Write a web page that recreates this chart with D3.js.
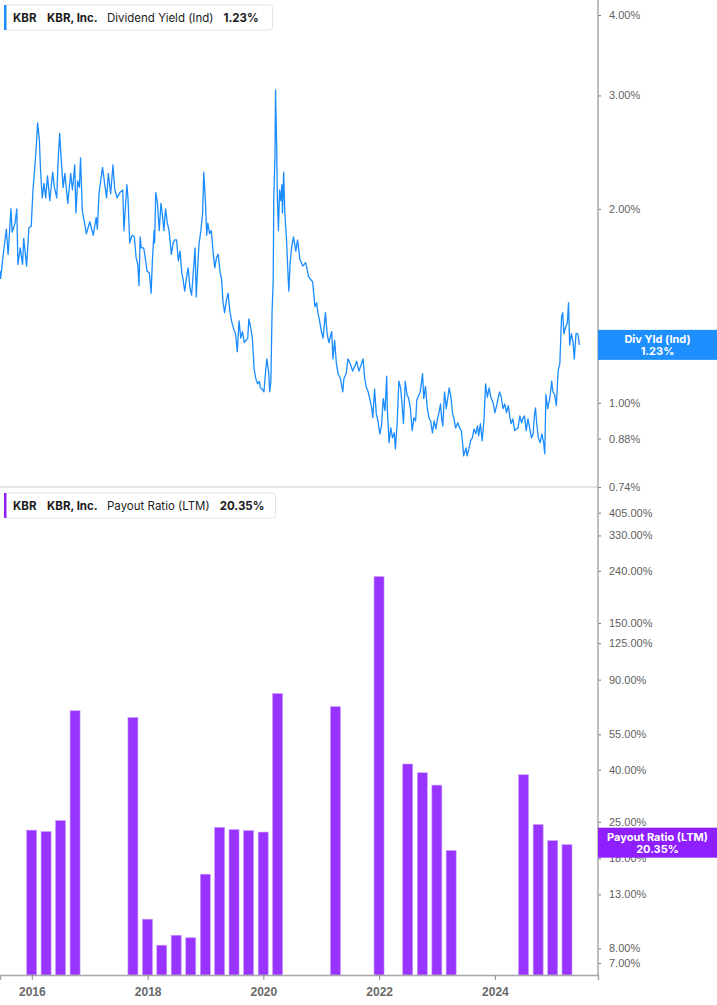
<!DOCTYPE html>
<html>
<head>
<meta charset="utf-8">
<script src="https://cdn.jsdelivr.net/npm/d3@7"></script>
<style>
  html, body { margin: 0; padding: 0; background: #fff; }
  body { width: 717px; height: 1005px; overflow: hidden; font-family: Inter, "Noto Sans", sans-serif; }
  #chart svg { display: block; }
</style>
</head>
<body>
<div id="chart"></div>
<script>
// Dividend yield (Ind), % — dates as decimal years, grouped by year
const yieldDates = [
  2015.45,2015.46,2015.49,2015.53,2015.56,2015.59,2015.64,2015.66,2015.71,2015.74,2015.76,2015.80,2015.84,2015.86,2015.91,2015.95,2015.99,
  2016.02,2016.07,2016.10,2016.13,2016.15,2016.18,2016.21,2016.24,2016.27,2016.31,2016.36,2016.39,2016.43,2016.45,2016.48,2016.50,2016.54,2016.57,2016.62,2016.67,2016.70,2016.74,2016.76,2016.79,2016.82,2016.84,2016.87,2016.90,2016.94,
  2017.00,2017.06,2017.11,2017.13,2017.16,2017.22,2017.25,2017.29,2017.32,2017.36,2017.40,2017.43,2017.47,2017.52,2017.57,2017.59,2017.64,2017.66,2017.69,2017.73,2017.77,2017.80,2017.83,2017.85,2017.87,2017.89,2017.93,2017.95,2017.99,
  2018.03,2018.06,2018.08,2018.11,2018.12,2018.14,2018.17,2018.20,2018.23,2018.26,2018.28,2018.31,2018.34,2018.37,2018.41,2018.44,2018.47,2018.50,2018.53,2018.56,2018.59,2018.61,2018.64,2018.67,2018.70,2018.73,2018.76,2018.79,2018.82,2018.84,2018.87,2018.89,2018.92,2018.95,2018.97,
  2019.00,2019.02,2019.04,2019.07,2019.10,2019.13,2019.16,2019.19,2019.22,2019.25,2019.28,2019.30,2019.33,2019.36,2019.39,2019.42,2019.45,2019.49,2019.52,2019.55,2019.58,2019.61,2019.64,2019.67,2019.70,2019.73,2019.75,2019.78,2019.81,2019.84,2019.87,2019.90,2019.93,2019.95,2019.98,
  2020.01,2020.04,2020.06,2020.09,2020.11,2020.13,2020.15,2020.17,2020.18,2020.20,2020.21,2020.23,2020.24,2020.26,2020.28,2020.30,2020.32,2020.33,2020.35,2020.37,2020.40,2020.43,2020.44,2020.46,2020.49,2020.52,2020.56,2020.59,2020.63,2020.68,2020.73,2020.78,2020.85,2020.89,2020.92,2020.94,2020.97,
  2021.00,2021.03,2021.07,2021.10,2021.13,2021.18,2021.20,2021.23,2021.26,2021.29,2021.33,2021.37,2021.39,2021.43,2021.46,2021.50,2021.54,2021.58,2021.61,2021.65,2021.68,2021.72,2021.75,2021.78,2021.81,2021.84,2021.87,2021.89,2021.92,2021.95,2021.98,
  2022.01,2022.04,2022.07,2022.10,2022.13,2022.14,2022.17,2022.20,2022.23,2022.26,2022.28,2022.31,2022.34,2022.37,2022.40,2022.42,2022.45,2022.48,2022.51,2022.54,2022.57,2022.60,2022.63,2022.65,2022.69,2022.71,2022.75,2022.77,2022.80,2022.83,2022.86,2022.89,2022.92,2022.95,2022.98,
  2023.01,2023.03,2023.06,2023.08,2023.10,2023.13,2023.16,2023.21,2023.24,2023.27,2023.29,2023.32,2023.36,2023.39,2023.42,2023.45,2023.46,2023.50,2023.52,2023.55,2023.58,2023.61,2023.64,2023.67,2023.70,2023.72,2023.75,2023.78,2023.81,2023.84,2023.87,2023.90,2023.93,2023.97,
  2024.00,2024.03,2024.05,2024.08,2024.11,2024.14,2024.17,2024.20,2024.23,2024.26,2024.28,2024.31,2024.34,2024.37,2024.40,2024.43,2024.46,2024.48,2024.51,2024.54,2024.57,2024.60,2024.63,2024.66,2024.68,2024.70,2024.72,2024.75,2024.78,2024.81,2024.84,2024.86,2024.88,2024.91,2024.95,2024.98,
  2025.00,2025.03,2025.06,2025.09,2025.12,2025.15,2025.17,2025.19,2025.22,2025.25,2025.27,2025.29,2025.32,2025.35,2025.37,2025.40,2025.43,2025.46
];
const yieldValues = [
  1.60,1.56,1.65,1.77,1.86,1.70,2.00,1.84,1.90,2.00,1.64,1.74,1.64,1.80,1.63,1.87,1.88,
  2.14,2.44,2.72,2.56,2.30,2.08,2.19,2.08,2.25,2.06,2.28,2.16,2.08,2.34,2.62,2.44,2.16,2.27,2.04,2.27,2.14,2.34,1.97,2.21,2.16,2.40,1.99,1.92,1.83,
  1.91,1.82,1.94,1.86,2.12,2.32,2.21,2.08,2.27,2.11,2.34,2.15,2.08,2.12,2.14,1.85,2.18,2.08,1.77,1.82,1.81,1.68,1.64,1.52,1.81,1.74,1.74,1.70,1.60,
  1.59,1.48,1.65,1.85,1.77,2.12,2.04,1.85,2.04,1.94,1.85,2.00,1.90,1.85,1.70,1.77,1.79,1.79,1.66,1.72,1.59,1.56,1.49,1.56,1.62,1.51,1.47,1.60,1.74,1.46,1.66,1.77,1.85,1.97,2.28,
  2.04,1.82,1.90,1.83,1.85,1.72,1.62,1.68,1.70,1.60,1.55,1.44,1.38,1.44,1.48,1.39,1.34,1.30,1.28,1.20,1.34,1.26,1.29,1.24,1.25,1.26,1.35,1.31,1.26,1.13,1.09,1.07,1.08,1.055,1.05,
  1.04,1.12,1.17,1.12,1.04,1.08,1.38,1.55,2.08,2.40,3.06,2.49,2.11,1.85,2.14,2.06,2.18,1.97,2.28,1.97,1.79,1.55,1.49,1.64,1.75,1.81,1.72,1.79,1.67,1.63,1.65,1.57,1.54,1.41,1.43,1.38,1.34,
  1.29,1.26,1.38,1.28,1.24,1.29,1.17,1.25,1.15,1.11,1.09,1.04,1.09,1.11,1.17,1.15,1.12,1.14,1.16,1.12,1.14,1.17,1.09,1.055,1.04,1.01,0.982,0.948,1.05,0.961,0.937,
  0.895,0.921,1.015,0.972,1.10,0.982,0.867,0.914,0.882,0.898,0.848,0.928,1.08,1.055,0.982,0.928,1.08,1.03,1.015,0.979,0.905,0.948,0.937,1.01,1.03,1.04,1.11,1.015,1.06,0.982,0.948,0.937,0.898,0.937,0.911,
  0.948,0.961,0.996,0.944,0.921,1.04,0.979,1.055,1.02,0.961,0.948,0.914,0.931,0.914,0.905,0.851,0.827,0.851,0.827,0.848,0.873,0.882,0.911,0.895,0.921,0.889,0.928,0.873,0.937,1.07,1.02,1.055,1.02,1.00,
  0.965,0.99,1.01,1.04,1.02,0.979,0.996,0.965,0.99,0.948,0.928,0.944,0.905,0.911,0.914,0.954,0.931,0.944,0.954,0.905,0.944,0.914,0.882,0.895,0.954,0.982,0.931,0.882,0.867,0.895,0.867,0.833,1.03,0.979,1.02,1.08,
  1.04,1.03,0.99,1.12,1.15,1.36,1.38,1.28,1.31,1.33,1.43,1.23,1.28,1.24,1.17,1.28,1.28,1.23
];

// Payout ratio (LTM), % — quarterly
const payoutDates = [
  "2015-12-31","2016-03-31","2016-06-30","2016-09-30",
  "2017-09-30","2017-12-31","2018-03-31","2018-06-30","2018-09-30","2018-12-31",
  "2019-03-31","2019-06-30","2019-09-30","2019-12-31","2020-03-31",
  "2021-03-31","2021-12-31",
  "2022-06-30","2022-09-30","2022-12-31","2023-03-31",
  "2024-06-30","2024-09-30","2024-12-31","2025-03-31"
];
const payoutValues = [
  23.2, 22.9, 25.3, 68.0,
  64.0, 10.4, 8.23, 9.0, 8.8, 15.6,
  23.8, 23.3, 23.1, 22.8, 79.4,
  70.6, 227.8,
  42.1, 38.9, 34.8, 19.3,
  38.2, 24.4, 21.1, 20.35
];

const yieldTicks = [4, 3, 2, 1, 0.88, 0.74];
const payoutTicks = [405, 330, 240, 150, 125, 90, 55, 40, 25, 18, 13, 8, 7];
const yearTicks = [2016, 2018, 2020, 2022, 2024];

const width = 717, height = 1005;
const plotRight = 598;
const topPanel = { top: 0, bottom: 487 };
const botPanel = { top: 488, bottom: 975 };

const blue = "#1a8cff";
const purple = "#9933ff";

const fromYear = (y) => {
  const yr = Math.floor(y);
  const a = new Date(yr, 0, 1), b = new Date(yr + 1, 0, 1);
  return new Date(+a + (y - yr) * (b - a));
};
const parse = d3.timeParse("%Y-%m-%d");

const svg = d3.select("#chart").append("svg")
  .attr("width", width).attr("height", height)
  .style("font-family", "Inter, 'Noto Sans', sans-serif");

// X scale shared by both panels
const x = d3.scaleTime()
  .domain([fromYear(2015.45), fromYear(2025.78)])
  .range([0, plotRight]);

// Top panel scale (log)
const yTop = d3.scaleLog().domain([0.74, 4.22]).range([topPanel.bottom, topPanel.top]);
// Bottom panel scale (log)
const yBot = d3.scaleLog().domain([6.29, 506]).range([botPanel.bottom, botPanel.top]);

// panel separator
svg.append("line")
  .attr("x1", 0).attr("x2", plotRight)
  .attr("y1", 487).attr("y2", 487)
  .attr("stroke", "#dcdcdc").attr("stroke-width", 1.5);

// clip for the line
svg.append("clipPath").attr("id", "clipTop")
  .append("rect").attr("x", 0).attr("y", 0).attr("width", plotRight).attr("height", topPanel.bottom);

const yieldData = yieldDates.map((d, i) => ({ date: fromYear(d), value: yieldValues[i] }));

svg.append("path")
  .datum(yieldData)
  .attr("clip-path", "url(#clipTop)")
  .attr("fill", "none")
  .attr("stroke", blue)
  .attr("stroke-width", 1.3)
  .attr("stroke-linejoin", "round")
  .attr("d", d3.line().x((d) => x(d.date)).y((d) => yTop(d.value)));

// bars
const barW = 10;
const payoutData = payoutDates.map((d, i) => ({ date: parse(d), value: payoutValues[i] }));
svg.selectAll(".bar")
  .data(payoutData)
  .enter()
  .append("rect")
  .attr("class", "bar")
  .attr("x", (d) => x(d.date) - barW / 2)
  .attr("y", (d) => yBot(d.value))
  .attr("width", barW)
  .attr("height", (d) => botPanel.bottom - yBot(d.value))
  .attr("fill", purple)
  .attr("stroke", "#c99cff")
  .attr("stroke-width", 0.6);

// right axes
const pct = (d) => d3.format(".2f")(d) + "%";
const styleAxis = (g) => {
  g.select(".domain").remove();
  g.selectAll(".tick line").attr("stroke", "#777").attr("stroke-width", 1);
  g.selectAll(".tick text")
    .attr("fill", "#5f5f5f")
    .attr("font-size", 11)
    .attr("x", 11);
};

svg.append("g")
  .attr("transform", `translate(${plotRight},0)`)
  .call(d3.axisRight(yTop).tickValues(yieldTicks).tickFormat(pct).tickSize(3))
  .call(styleAxis);

svg.append("g")
  .attr("transform", `translate(${plotRight},0)`)
  .call(d3.axisRight(yBot).tickValues(payoutTicks).tickFormat(pct).tickSize(3))
  .call(styleAxis);

// axis line on the right
svg.append("line")
  .attr("x1", plotRight).attr("x2", plotRight)
  .attr("y1", 0).attr("y2", botPanel.bottom)
  .attr("stroke", "#a8a8a8").attr("stroke-width", 1.5);

// x axis
const xAxis = svg.append("g")
  .attr("transform", `translate(0,${botPanel.bottom})`)
  .call(d3.axisBottom(x)
    .tickValues(yearTicks.map((y) => new Date(y, 0, 1)))
    .tickFormat(d3.timeFormat("%Y"))
    .tickSize(5));
xAxis.select(".domain").attr("stroke", "#a8a8a8").attr("stroke-width", 1.5);
xAxis.selectAll(".tick line").attr("stroke", "#888");
xAxis.selectAll(".tick text")
  .attr("fill", "#6a6a6a")
  .attr("font-size", 12)
  .attr("font-weight", 600)
  .attr("dy", "1.05em");

// value flags on the right axis
const flag = (yc, color, line1, line2) => {
  const g = svg.append("g");
  g.append("rect")
    .attr("x", plotRight).attr("y", yc - 15)
    .attr("width", width - plotRight).attr("height", 30)
    .attr("fill", color);
  g.append("text")
    .attr("x", (plotRight + width) / 2).attr("y", yc - 2)
    .attr("text-anchor", "middle").attr("fill", "#fff")
    .attr("font-size", 11).attr("font-weight", 700)
    .text(line1);
  g.append("text")
    .attr("x", (plotRight + width) / 2).attr("y", yc + 10)
    .attr("text-anchor", "middle").attr("fill", "#fff")
    .attr("font-size", 11).attr("font-weight", 700)
    .text(line2);
};
const lastYield = yieldValues[yieldValues.length - 1];
const lastPayout = payoutValues[payoutValues.length - 1];
flag(yTop(lastYield), "#1e8fff", "Div Yld (Ind)", pct(lastYield));
flag(yBot(lastPayout) - 2, "#8f1fff", "Payout Ratio (LTM)", pct(lastPayout));

// legends
const legend = (y0, w, color, label, value) => {
  const g = svg.append("g").attr("transform", `translate(4,${y0})`);
  g.append("rect")
    .attr("x", 0.5).attr("y", 0.5).attr("width", w).attr("height", 25)
    .attr("rx", 3).attr("fill", "#fff").attr("stroke", "#e4e4e4");
  g.append("rect")
    .attr("x", 0).attr("y", 0.5).attr("width", 2.5).attr("height", 25)
    .attr("fill", color);
  const t = g.append("text").attr("y", 17).attr("font-size", 11.5).attr("fill", "#1c1c1c");
  t.append("tspan").attr("x", 9).attr("font-weight", 700).text("KBR");
  t.append("tspan").attr("x", 43).attr("font-weight", 700).text("KBR, Inc.");
  const lab = t.append("tspan").attr("x", 103).attr("font-weight", 400).text(label);
  g.append("text").attr("y", 17).attr("font-size", 11.5).attr("fill", "#1c1c1c")
    .attr("font-weight", 700)
    .attr("x", 103 + lab.node().getComputedTextLength() + 10)
    .text(value);
};
legend(4.5, 268, blue, "Dividend Yield (Ind)", pct(lastYield));
legend(492.5, 271, "#8f1fff", "Payout Ratio (LTM)", pct(lastPayout));
</script>
</body>
</html>
